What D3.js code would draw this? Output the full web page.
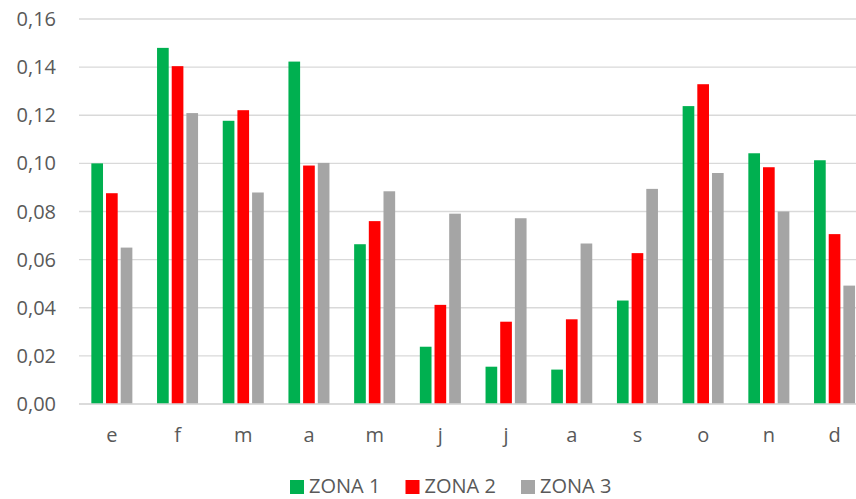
<!DOCTYPE html>
<html>
<head>
<meta charset="utf-8">
<script src="https://cdn.jsdelivr.net/npm/d3@7"></script>
<style>
  html, body { margin: 0; padding: 0; background: #fff; overflow: hidden; }
  svg { display: block; font-family: "Open Sans", sans-serif; }
</style>
</head>
<body>
<svg id="chart" width="856" height="499"></svg>
<script>
const categories = ["e", "f", "m", "a", "m", "j", "j", "a", "s", "o", "n", "d"];
const seriesNames = ["ZONA 1", "ZONA 2", "ZONA 3"];
const zona1 = [0.100, 0.148, 0.1177, 0.1423, 0.0664, 0.0238, 0.0155, 0.0143, 0.0430, 0.1238, 0.1042, 0.1013];
const zona2 = [0.0876, 0.1404, 0.1221, 0.0991, 0.0760, 0.0412, 0.0342, 0.0352, 0.0627, 0.1329, 0.0984, 0.0706];
const zona3 = [0.0650, 0.1209, 0.0879, 0.1002, 0.0884, 0.0791, 0.0772, 0.0667, 0.0894, 0.0960, 0.0800, 0.0492];
const yTicks = [0, 0.02, 0.04, 0.06, 0.08, 0.10, 0.12, 0.14, 0.16];
const colors = ["#00B050", "#FF0000", "#A5A5A5"];

const seriesValues = [zona1, zona2, zona3];
const svg = d3.select("#chart");

const left = 79, step = 65.7;
const right = left + step * categories.length;
const y = d3.scaleLinear().domain([0, 0.16]).range([404, 19]);
const x0 = d3.scaleBand().domain(d3.range(categories.length)).range([left, right])
  .paddingInner(0.33).paddingOuter(0.165);
const x1 = d3.scaleBand().domain(d3.range(seriesNames.length)).range([0, x0.bandwidth()]);

const fmt = v => d3.format(".2f")(v).replace(".", ",");
const textColor = "#595959";

// gridlines
svg.append("g").selectAll("line").data(yTicks).join("line")
  .attr("x1", left).attr("x2", right)
  .attr("y1", d => y(d)).attr("y2", d => y(d))
  .attr("stroke", "#d9d9d9").attr("stroke-width", 1.4);

// y labels
svg.append("g").selectAll("text").data(yTicks).join("text")
  .attr("x", 56).attr("y", d => y(d)).attr("dy", "0.35em")
  .attr("text-anchor", "end").attr("font-size", 20).attr("fill", textColor)
  .text(fmt);

// bars
const gap = 3;
seriesValues.forEach((vals, s) => {
  svg.append("g").selectAll("rect").data(vals).join("rect")
    .attr("x", (d, i) => x0(i) + x1(s) + gap / 2)
    .attr("width", x1.bandwidth() - gap)
    .attr("y", d => y(d))
    .attr("height", d => y(0) - y(d))
    .attr("fill", colors[s]);
});

// x axis line
svg.append("line").attr("x1", left).attr("x2", right)
  .attr("y1", y(0)).attr("y2", y(0))
  .attr("stroke", "#d9d9d9").attr("stroke-width", 1.4);

// x labels
svg.append("g").selectAll("text").data(categories).join("text")
  .attr("x", (d, i) => x0(i) + x0.bandwidth() / 2).attr("y", 442)
  .attr("text-anchor", "middle").attr("font-size", 20).attr("fill", textColor)
  .text(d => d);

// legend
const legend = svg.append("g").selectAll("g").data(seriesNames).join("g")
  .attr("transform", (d, i) => `translate(${290 + i * 115.5},0)`);
legend.append("rect").attr("x", 0).attr("y", 480).attr("width", 14).attr("height", 14)
  .attr("fill", (d, i) => colors[i]);
legend.append("text").attr("x", 19).attr("y", 493)
  .attr("font-size", 20).attr("fill", textColor).text(d => d);
</script>
</body>
</html>
